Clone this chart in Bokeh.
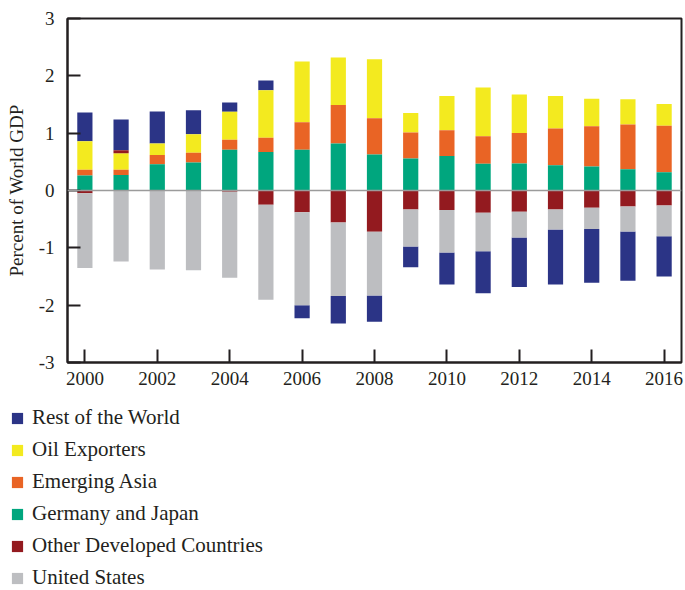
import numpy as np
from bokeh.plotting import figure
from bokeh.models import (ColumnDataSource, FixedTicker, Span, Legend, LegendItem, Range1d)
from bokeh.layouts import column, row
from bokeh.embed import file_html
from bokeh.resources import INLINE

# ---------------- data ----------------
years = list(range(2000, 2017))
series_names = ["Rest of the World", "Oil Exporters", "Emerging Asia",
                "Germany and Japan", "Other Developed Countries", "United States"]
rest_of_world = [0.50, 0.54, 0.56, 0.42, 0.16, 0.17, -0.23, -0.48, -0.46, -0.365,
                 -0.56, -0.73, -0.865, -0.96, -0.94, -0.86, -0.70]
oil_exporters = [0.50, 0.29, 0.20, 0.32, 0.49, 0.83, 1.06, 0.83, 1.03, 0.34,
                 0.60, 0.85, 0.67, 0.57, 0.48, 0.44, 0.38]
emerging_asia = [0.10, 0.09, 0.16, 0.17, 0.175, 0.25, 0.48, 0.67, 0.63, 0.45,
                 0.45, 0.48, 0.535, 0.64, 0.70, 0.78, 0.81]
germany_japan = [0.26, 0.27, 0.46, 0.49, 0.71, 0.67, 0.71, 0.82, 0.63, 0.56,
                 0.60, 0.465, 0.47, 0.44, 0.42, 0.37, 0.32]
other_developed = [-0.05, 0.05, 0.0, 0.0, -0.02, -0.25, -0.38, -0.56, -0.72, -0.33,
                   -0.34, -0.39, -0.37, -0.33, -0.30, -0.28, -0.26]
united_states = [-1.30, -1.24, -1.38, -1.39, -1.50, -1.655, -1.62, -1.28, -1.11, -0.645,
                 -0.74, -0.67, -0.45, -0.35, -0.37, -0.435, -0.54]
y_ticks = [-3, -2, -1, 0, 1, 2, 3]
y_tick_labels = ["-3", "-2", "-1", "0", "1", "2", "3"]
x_ticks = [2000, 2002, 2004, 2006, 2008, 2010, 2012, 2014, 2016]

colors = {
    "Rest of the World": "#2B3486",
    "Oil Exporters": "#F3EA1F",
    "Emerging Asia": "#E96425",
    "Germany and Japan": "#00A67E",
    "Other Developed Countries": "#931A1F",
    "United States": "#BDBEC1",
}
values = {
    "Rest of the World": rest_of_world,
    "Oil Exporters": oil_exporters,
    "Emerging Asia": emerging_asia,
    "Germany and Japan": germany_japan,
    "Other Developed Countries": other_developed,
    "United States": united_states,
}

# stacking orders (from zero outward)
pos_order = ["Germany and Japan", "Emerging Asia", "Oil Exporters",
             "Other Developed Countries", "Rest of the World"]
neg_order = ["Other Developed Countries", "United States", "Rest of the World"]

n = len(years)
pos_cum = np.zeros(n)
neg_cum = np.zeros(n)
bottoms = {k: np.zeros(n) for k in series_names}
tops = {k: np.zeros(n) for k in series_names}
for k in pos_order:
    v = np.array(values[k])
    m = v > 0
    bottoms[k][m] = pos_cum[m]
    tops[k][m] = pos_cum[m] + v[m]
    pos_cum[m] += v[m]
for k in neg_order:
    v = np.array(values[k])
    m = v < 0
    tops[k][m] = neg_cum[m]
    bottoms[k][m] = neg_cum[m] + v[m]
    neg_cum[m] += v[m]

sources = {k: ColumnDataSource(dict(x=years, top=tops[k], bottom=bottoms[k]))
           for k in series_names}

FONT = "Liberation Serif"
TXT = "#231F20"

# ---------------- main chart ----------------
p = figure(width=685, height=397, output_backend="svg", toolbar_location=None,
           x_range=Range1d(1999.52, 2016.48), y_range=Range1d(-3, 3),
           min_border_left=67, min_border_right=4, min_border_top=18, min_border_bottom=35)

for k in series_names:
    p.vbar(x="x", top="top", bottom="bottom", width=0.42, source=sources[k],
           fill_color=colors[k], line_color=None)

p.add_layout(Span(location=0, dimension="width", line_color="#9B9B9B", line_width=1.5))

p.xgrid.visible = False
p.ygrid.visible = False
p.outline_line_color = TXT
p.outline_line_width = 2

for ax in (p.xaxis[0], p.yaxis[0]):
    ax.axis_line_color = TXT
    ax.axis_line_width = 2
    ax.major_tick_line_color = TXT
    ax.major_tick_line_width = 2
    ax.major_tick_in = 13
    ax.major_tick_out = 0
    ax.minor_tick_line_color = None
    ax.major_label_text_font = FONT
    ax.major_label_text_font_size = "19px"
    ax.major_label_text_color = TXT

p.xaxis.ticker = FixedTicker(ticks=x_ticks)
p.yaxis.ticker = FixedTicker(ticks=y_ticks)
p.yaxis.major_label_overrides = {t: s for t, s in zip(y_ticks, y_tick_labels)}
p.xaxis.major_label_standoff = 9
p.yaxis.major_label_standoff = 13
p.yaxis.axis_label = "Percent of World GDP"
p.yaxis.axis_label_text_font = FONT
p.yaxis.axis_label_text_font_size = "19px"
p.yaxis.axis_label_text_font_style = "normal"
p.yaxis.axis_label_text_color = TXT
p.yaxis.axis_label_standoff = 9

# ---------------- legend panel ----------------
lg = figure(width=685, height=193, output_backend="svg", toolbar_location=None,
            x_range=Range1d(0, 1), y_range=Range1d(0, 1),
            x_axis_location=None, y_axis_location=None,
            min_border_left=0, min_border_right=0, min_border_top=0, min_border_bottom=0)
lg.xgrid.visible = False
lg.ygrid.visible = False
lg.outline_line_color = None

items = []
for k in series_names:
    # same data as the chart; hidden here, used only for the key swatch
    r = lg.vbar(x="x", top="top", bottom="bottom", width=0.42, source=sources[k],
                fill_color=colors[k], line_color=None, visible=False)
    items.append(LegendItem(label=k, renderers=[r]))

legend = Legend(items=items, location=(10, 0), orientation="vertical",
                margin=0, padding=0, spacing=7, border_line_color=None,
                background_fill_alpha=0, glyph_width=14, glyph_height=14,
                label_standoff=8, label_height=20, inactive_fill_alpha=0,
                label_text_font=FONT, label_text_font_size="21px",
                label_text_color=TXT)
lg.add_layout(legend)

layout = column(p, row(lg, spacing=0), spacing=0)
open("out.html", "w").write(file_html(layout, INLINE))
